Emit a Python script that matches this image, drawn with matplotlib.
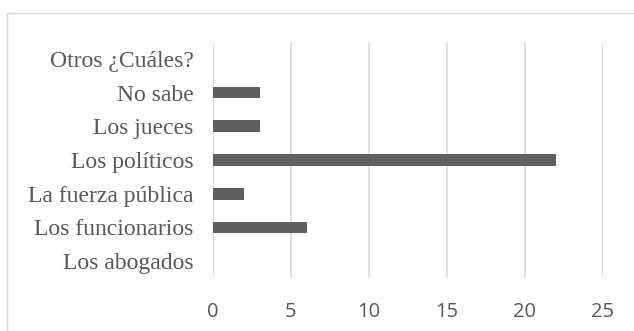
import matplotlib
matplotlib.use("Agg")
import matplotlib.pyplot as plt
from matplotlib.patches import Rectangle

categories = ["Los abogados", "Los funcionarios", "La fuerza pública", "Los políticos",
              "Los jueces", "No sabe", "Otros ¿Cuáles?"]
values = [0, 6, 2, 22, 3, 3, 0]
xticks = [0, 5, 10, 15, 20, 25]

W, H = 634, 331
fig = plt.figure(figsize=(W / 100, H / 100), dpi=100)
ax = fig.add_axes([213 / W, 1 - 278 / H, (603 - 213) / W, (278 - 42) / H])

ax.barh(range(len(categories)), values, height=0.35, color="#5f5f5f", zorder=3)
ax.set_xlim(0, 25)
ax.set_ylim(-0.5, len(categories) - 0.5)
ax.set_xticks(xticks)
ax.set_xticklabels([str(t) for t in xticks], family="Open Sans", fontsize=14.5, color="#595959")
ax.set_yticks(range(len(categories)))
ax.set_yticklabels(categories, family="Liberation Serif", fontsize=17, color="#595959")
ax.tick_params(axis="both", length=0)
ax.tick_params(axis="y", pad=14)
ax.tick_params(axis="x", pad=17)
ax.grid(axis="x", color="#d9d9d9", linewidth=1.2, zorder=0)
for s in ax.spines.values():
    s.set_visible(False)

fig.patches.append(Rectangle((7 / W, -0.1), 1.2, 1.1 - 12.5 / H, transform=fig.transFigure,
                             fill=False, edgecolor="#d9d9d9", linewidth=1))
fig.savefig("out.png", dpi=100)
